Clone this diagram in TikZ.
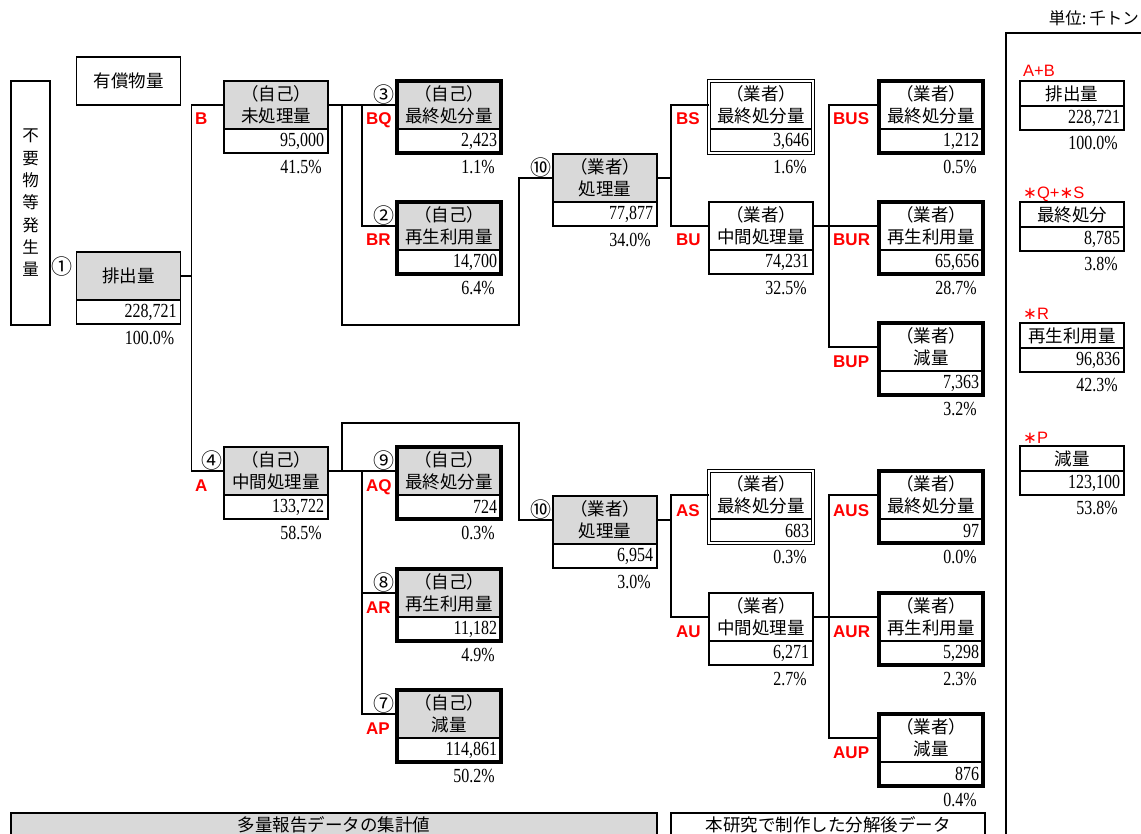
\documentclass[tikz,border=0pt]{standalone}
\usepackage{fontspec}
\setmainfont{Liberation Serif}
\newfontfamily\jpfont{Noto Sans CJK JP}
\newfontfamily\numfont{Liberation Serif}[FakeStretch=0.8]
\newfontfamily\tagfont{Liberation Sans}
\newfontfamily\symfont{DejaVu Sans}
\usetikzlibrary{positioning,fit}
\definecolor{cellgray}{HTML}{D9D9D9}
\definecolor{tagred}{HTML}{FF0000}
\tikzset{cell/.style={draw,line width=1.6pt,minimum width=104pt,inner sep=0pt,outer sep=0pt,align=center,font=\jpfont\fontsize{17.5}{22}\selectfont},head/.style={cell,fill=cellgray,minimum height=48pt},headw/.style={head,fill=white},val/.style={cell,fill=white,minimum height=24pt,text width=96pt,align=right,font=\numfont\fontsize{20}{20}\selectfont},pct/.style={inner sep=0pt,font=\numfont\fontsize{20}{20}\selectfont},tag/.style={inner sep=0pt,anchor=west,text=tagred,text height=12pt,text depth=0pt,font=\tagfont\bfseries\fontsize{17}{17}\selectfont},sumtag/.style={tag,font=\tagfont\fontsize{16.5}{16.5}\selectfont},circ/.style={inner sep=0pt,font=\jpfont\fontsize{21}{21}\selectfont},heavy/.style={draw,line width=3.6pt,inner sep=0pt},twin/.style={draw,double,double distance=1.4pt,line width=0.9pt,inner sep=0pt},sumhead/.style={cell,fill=white,minimum height=25pt},link/.style={line width=1.6pt}}

\begin{document}
\begin{tikzpicture}[x=1pt,y=-1pt]
\useasboundingbox (0,0) rectangle (1141,834);
\node[cell,minimum width=39pt,minimum height=244pt,line width=2.2pt,font=\jpfont\fontsize{16.5}{22.3}\selectfont] (origin) at (30.5,203) {不\\要\\物\\等\\発\\生\\量};
\node[cell,minimum height=48pt] (sold) at (128.5,81) {有償物量};
\node[head] (discharge) at (128.5,276) {排出量};
\node[val,below=0pt of discharge] (dischargev) {228,721};
\node[pct,below left=7pt and 6pt of dischargev.south east] (dischargep) {100.0\%};
\node[circ,left=4pt of discharge.west,yshift=9pt] (n1) {①};

\node[head] (bself) at (276,105) {（自己）\\未処理量};
\node[val,below=0pt of bself] (bselfv) {95,000};
\node[pct,below left=7pt and 6pt of bselfv.south east] (bselfp) {41.5\%};
\node[head] (bselffinal) at (449,105) {（自己）\\最終処分量};
\node[val,below=0pt of bselffinal] (bselffinalv) {2,423};
\node[pct,below left=7pt and 6pt of bselffinalv.south east] (bselffinalp) {1.1\%};
\node[head] (bselfrecycle) at (449,226) {（自己）\\再生利用量};
\node[val,below=0pt of bselfrecycle] (bselfrecyclev) {14,700};
\node[pct,below left=7pt and 6pt of bselfrecyclev.south east] (bselfrecyclep) {6.4\%};
\node[head] (bvendor) at (605,178) {（業者）\\処理量};
\node[val,below=0pt of bvendor] (bvendorv) {77,877};
\node[pct,below left=7pt and 6pt of bvendorv.south east] (bvendorp) {34.0\%};
\node[headw] (bvendorfinal) at (761,105) {（業者）\\最終処分量};
\node[val,below=0pt of bvendorfinal] (bvendorfinalv) {3,646};
\node[pct,below left=7pt and 6pt of bvendorfinalv.south east] (bvendorfinalp) {1.6\%};
\node[headw] (bvendormid) at (761,226) {（業者）\\中間処理量};
\node[val,below=0pt of bvendormid] (bvendormidv) {74,231};
\node[pct,below left=7pt and 6pt of bvendormidv.south east] (bvendormidp) {32.5\%};
\node[headw] (bmidfinal) at (931,105) {（業者）\\最終処分量};
\node[val,below=0pt of bmidfinal] (bmidfinalv) {1,212};
\node[pct,below left=7pt and 6pt of bmidfinalv.south east] (bmidfinalp) {0.5\%};
\node[headw] (bmidrecycle) at (931,226) {（業者）\\再生利用量};
\node[val,below=0pt of bmidrecycle] (bmidrecyclev) {65,656};
\node[pct,below left=7pt and 6pt of bmidrecyclev.south east] (bmidrecyclep) {28.7\%};
\node[headw] (bmidreduce) at (931,347) {（業者）\\減量};
\node[val,below=0pt of bmidreduce] (bmidreducev) {7,363};
\node[pct,below left=7pt and 6pt of bmidreducev.south east] (bmidreducep) {3.2\%};

\node[head] (aself) at (276,471) {（自己）\\中間処理量};
\node[val,below=0pt of aself] (aselfv) {133,722};
\node[pct,below left=7pt and 6pt of aselfv.south east] (aselfp) {58.5\%};
\node[head] (aselffinal) at (449,471) {（自己）\\最終処分量};
\node[val,below=0pt of aselffinal] (aselffinalv) {724};
\node[pct,below left=7pt and 6pt of aselffinalv.south east] (aselffinalp) {0.3\%};
\node[head] (aselfrecycle) at (449,593) {（自己）\\再生利用量};
\node[val,below=0pt of aselfrecycle] (aselfrecyclev) {11,182};
\node[pct,below left=7pt and 6pt of aselfrecyclev.south east] (aselfrecyclep) {4.9\%};
\node[head] (aselfreduce) at (449,714) {（自己）\\減量};
\node[val,below=0pt of aselfreduce] (aselfreducev) {114,861};
\node[pct,below left=7pt and 6pt of aselfreducev.south east] (aselfreducep) {50.2\%};
\node[head] (avendor) at (605,520) {（業者）\\処理量};
\node[val,below=0pt of avendor] (avendorv) {6,954};
\node[pct,below left=7pt and 6pt of avendorv.south east] (avendorp) {3.0\%};
\node[headw] (avendorfinal) at (761,495) {（業者）\\最終処分量};
\node[val,below=0pt of avendorfinal] (avendorfinalv) {683};
\node[pct,below left=7pt and 6pt of avendorfinalv.south east] (avendorfinalp) {0.3\%};
\node[headw] (avendormid) at (761,617) {（業者）\\中間処理量};
\node[val,below=0pt of avendormid] (avendormidv) {6,271};
\node[pct,below left=7pt and 6pt of avendormidv.south east] (avendormidp) {2.7\%};
\node[headw] (amidfinal) at (931,495) {（業者）\\最終処分量};
\node[val,below=0pt of amidfinal] (amidfinalv) {97};
\node[pct,below left=7pt and 6pt of amidfinalv.south east] (amidfinalp) {0.0\%};
\node[headw] (amidrecycle) at (931,617) {（業者）\\再生利用量};
\node[val,below=0pt of amidrecycle] (amidrecyclev) {5,298};
\node[pct,below left=7pt and 6pt of amidrecyclev.south east] (amidrecyclep) {2.3\%};
\node[headw] (amidreduce) at (931,738) {（業者）\\減量};
\node[val,below=0pt of amidreduce] (amidreducev) {876};
\node[pct,below left=7pt and 6pt of amidreducev.south east] (amidreducep) {0.4\%};

\node[heavy,fit=(bselffinal)(bselffinalv)] (bselffinalf) {};
\node[heavy,fit=(bselfrecycle)(bselfrecyclev)] (bselfrecyclef) {};
\node[twin,fit=(bvendorfinal)(bvendorfinalv)] (bvendorfinalf) {};
\node[heavy,fit=(bmidfinal)(bmidfinalv)] (bmidfinalf) {};
\node[heavy,fit=(bmidrecycle)(bmidrecyclev)] (bmidrecyclef) {};
\node[heavy,fit=(bmidreduce)(bmidreducev)] (bmidreducef) {};
\node[heavy,fit=(aselffinal)(aselffinalv)] (aselffinalf) {};
\node[heavy,fit=(aselfrecycle)(aselfrecyclev)] (aselfrecyclef) {};
\node[heavy,fit=(aselfreduce)(aselfreducev)] (aselfreducef) {};
\node[twin,fit=(avendorfinal)(avendorfinalv)] (avendorfinalf) {};
\node[heavy,fit=(amidfinal)(amidfinalv)] (amidfinalf) {};
\node[heavy,fit=(amidrecycle)(amidrecyclev)] (amidrecyclef) {};
\node[heavy,fit=(amidreduce)(amidreducev)] (amidreducef) {};

\node[circ,above left=0.5pt and 2pt of bselffinal.west] (n3) {③};
\node[circ,above left=0.5pt and 2pt of bselfrecycle.west] (n2) {②};
\node[circ,above left=0.5pt and 1pt of bvendor.west] (n10b) {⑩};
\node[circ,above left=0.5pt and 1pt of aself.west] (n4) {④};
\node[circ,above left=0.5pt and 2pt of aselffinal.west] (n9) {⑨};
\node[circ,above left=0.5pt and 2pt of aselfrecycle.west] (n8) {⑧};
\node[circ,above left=0.5pt and 2pt of aselfreduce.west] (n7) {⑦};
\node[circ,above left=0.5pt and 1pt of avendor.west] (n10a) {⑩};

\coordinate (bloop) at (519,325);
\coordinate (aloop) at (519,423);
\draw[link] (discharge.east) -- ++(11,0) coordinate (dj);
\draw[link] (bself.west) -| (dj) |- (aself.west);
\draw[link] (bself.east) -- (bselffinal.west); \draw[link] (bselffinal.west) ++(-35,0) |- (bselfrecycle.west);
\draw[link] (bself.east) ++(14,0) |- (bloop) |- (bvendor.west);
\draw[link] (bvendor.east) -- ++(14,0) coordinate (bvj); \draw[link] (bvendorfinal.west) -| (bvj) |- (bvendormid.west);
\path (bvendormid.east) ++(16,0) coordinate (bmj);
\draw[link] (bvendormid.east) -- (bmidrecycle.west); \draw[link] (bmidfinal.west) -| (bmj) |- (bmidreduce.west);
\draw[link] (aself.east) -- (aselffinal.west); \draw[link] (aselffinal.west) ++(-35,0) |- (aselfrecycle.west); \draw[link] (aselffinal.west) ++(-35,0) |- (aselfreduce.west);
\draw[link] (aself.east) ++(14,0) |- (aloop) |- (avendor.west);
\draw[link] (avendor.east) -- ++(14,0) coordinate (avj); \draw[link] (avendorfinal.west) -| (avj) |- (avendormid.west);
\path (avendormid.east) ++(16,0) coordinate (amj);
\draw[link] (avendormid.east) -- (amidrecycle.west); \draw[link] (amidfinal.west) -| (amj) |- (amidreduce.west);

\node[tag] (tagb) at (195,119) {B};
\node[tag] (tagbq) at (366,119) {BQ};
\node[tag] (tagbr) at (366,240) {BR};
\node[tag] (tagbs) at (676,119) {BS};
\node[tag] (tagbu) at (676,240) {BU};
\node[tag] (tagbus) at (833,119) {BUS};
\node[tag] (tagbur) at (833,240) {BUR};
\node[tag] (tagbup) at (833,361) {BUP};
\node[tag] (taga) at (195,485) {A};
\node[tag] (tagaq) at (366,485) {AQ};
\node[tag] (tagar) at (366,607) {AR};
\node[tag] (tagap) at (366,728) {AP};
\node[tag] (tagas) at (676,510) {AS};
\node[tag] (tagau) at (676,631) {AU};
\node[tag] (tagaus) at (833,510) {AUS};
\node[tag] (tagaur) at (833,631) {AUR};
\node[tag] (tagaup) at (833,752) {AUP};

\draw[line width=2.6pt] (1006,33) rectangle (1170,870);
\node[anchor=east,inner sep=0pt,font=\jpfont\fontsize{16.5}{16.5}\selectfont] (unit) at (1139,18) {単位:\,千トン};
\node[sumtag] (sumtag1) at (1023,71) {A+B};
\node[sumhead] (sumdischarge) at (1072,93.5) {排出量};
\node[val,below=0pt of sumdischarge] (sumdischargev) {228,721};
\node[pct,below left=6pt and 6pt of sumdischargev.south east] (sumdischargep) {100.0\%};
\node[sumtag] (sumtag2) at (1023,193) {{\symfont ∗}Q+{\symfont ∗}S};
\node[sumhead] (sumfinal) at (1072,214.5) {最終処分};
\node[val,below=0pt of sumfinal] (sumfinalv) {8,785};
\node[pct,below left=6pt and 6pt of sumfinalv.south east] (sumfinalp) {3.8\%};
\node[sumtag] (sumtag3) at (1023,314) {{\symfont ∗}R};
\node[sumhead] (sumrecycle) at (1072,335.5) {再生利用量};
\node[val,below=0pt of sumrecycle] (sumrecyclev) {96,836};
\node[pct,below left=6pt and 6pt of sumrecyclev.south east] (sumrecyclep) {42.3\%};
\node[sumtag] (sumtag4) at (1023,437) {{\symfont ∗}P};
\node[sumhead] (sumreduce) at (1072,458.5) {減量};
\node[val,below=0pt of sumreduce] (sumreducev) {123,100};
\node[pct,below left=6pt and 6pt of sumreducev.south east] (sumreducep) {53.8\%};

\node[cell,fill=cellgray,minimum width=646pt,minimum height=24pt,font=\jpfont\fontsize{17.5}{17.5}\selectfont] (keyreport) at (334,825) {多量報告データの集計値};
\node[cell,fill=white,minimum width=314pt,minimum height=24pt,font=\jpfont\fontsize{17.5}{17.5}\selectfont] (keystudy) at (828,825) {本研究で制作した分解後データ};
\end{tikzpicture}
\end{document}
